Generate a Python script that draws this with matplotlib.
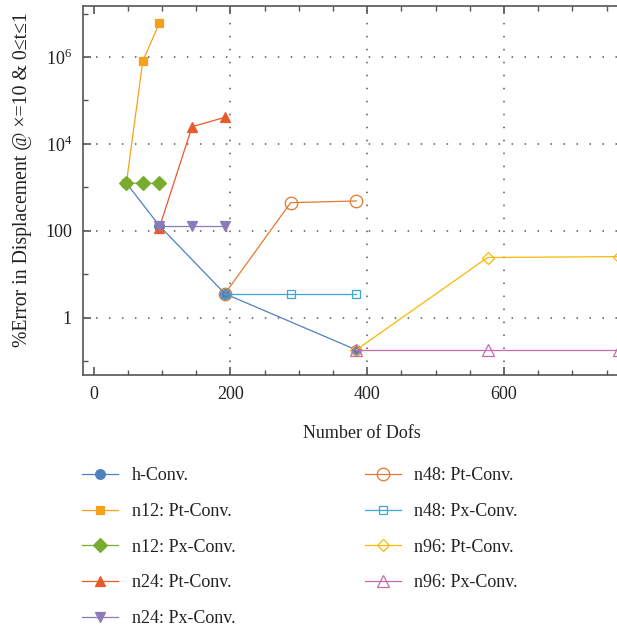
import matplotlib
matplotlib.use("Agg")
import matplotlib.pyplot as plt
from matplotlib.ticker import FixedLocator, FixedFormatter, MultipleLocator

plt.rcParams['font.family'] = ['Liberation Serif', 'DejaVu Serif']
plt.rcParams['mathtext.fontset'] = 'custom'
plt.rcParams['mathtext.rm'] = 'Liberation Serif'

# ---- data ----
h_x = [48, 96, 192, 384]
h_y = [1260, 133, 3.6, 0.184]

n12_pt_x = [48, 72, 96]
n12_pt_y = [1260, 8.1e5, 5.9e6]
n12_px_x = [48, 72, 96]
n12_px_y = [1260, 1250, 1250]

n24_pt_x = [96, 144, 192]
n24_pt_y = [117, 2.5e4, 4.1e4]
n24_px_x = [96, 144, 192]
n24_px_y = [133, 133, 133]

n48_pt_x = [192, 288, 384]
n48_pt_y = [3.6, 447, 490]
n48_px_x = [192, 288, 384]
n48_px_y = [3.6, 3.6, 3.6]

n96_pt_x = [384, 576, 768]
n96_pt_y = [0.184, 24.5, 25.7]
n96_px_x = [384, 576, 768]
n96_px_y = [0.184, 0.184, 0.184]

labels = ["h-Conv.", "n12: Pt-Conv.", "n12: Px-Conv.", "n24: Pt-Conv.",
          "n24: Px-Conv.", "n48: Pt-Conv.", "n48: Px-Conv.", "n96: Pt-Conv.",
          "n96: Px-Conv."]
ytick_vals = [1, 100, 1e4, 1e6]
ytick_labels = ["1", "100", r"$10^4$", r"$10^6$"]
xtick_vals = [0, 200, 400, 600]

# ---- figure ----
W, H = 617, 629
fig = plt.figure(figsize=(W / 100, H / 100), dpi=100)
ax_left, ax_bottom = 83 / W, (H - 374.5) / H
ax_height = (374.5 - 5.7) / H
xmin, xmax = -15.4, 800
ax_wpx = (xmax - xmin) * 0.6842
ax_width = ax_wpx / W
ax = fig.add_axes([ax_left, ax_bottom, ax_width, ax_height])

series = [
    (h_x, h_y, '#4f81bd', 'o', 7, True),
    (n12_pt_x, n12_pt_y, '#f5a11c', 's', 6, True),
    (n12_px_x, n12_px_y, '#77ac2f', 'D', 7, True),
    (n24_pt_x, n24_pt_y, '#ea5a2a', '^', 7.5, True),
    (n24_px_x, n24_px_y, '#8b7bb9', 'v', 7.5, True),
    (n48_pt_x, n48_pt_y, '#e3792f', 'o', 9, False),
    (n48_px_x, n48_px_y, '#3aa7d6', 's', 6, False),
    (n96_pt_x, n96_pt_y, '#fbb900', 'D', 6.5, False),
    (n96_px_x, n96_px_y, '#c56bb2', '^', 8, False),
]
for (x, y, c, m, ms, filled), lab in zip(series, labels):
    ax.plot(x, y, color=c, marker=m, markersize=ms, linewidth=0.9,
            markerfacecolor=c if filled else 'none', markeredgecolor=c,
            markeredgewidth=0.9, label=lab, clip_on=True)

ax.set_yscale('log')
ax.set_xlim(xmin, xmax)
ax.set_ylim(0.05, 10 ** 7.18)

ax.xaxis.set_major_locator(FixedLocator(xtick_vals))
ax.xaxis.set_minor_locator(MultipleLocator(50))
ax.yaxis.set_major_locator(FixedLocator(ytick_vals))
ax.yaxis.set_major_formatter(FixedFormatter(ytick_labels))
ax.yaxis.set_minor_locator(FixedLocator([0.1, 10, 1e3, 1e5, 1e7]))
ax.yaxis.set_minor_formatter(FixedFormatter([]))

axis_col = '#555555'
for s in ['left', 'bottom', 'top']:
    ax.spines[s].set_color(axis_col)
    ax.spines[s].set_linewidth(1.2)
ax.spines['right'].set_visible(False)

ax.tick_params(which='both', direction='in', top=True, right=False,
               color=axis_col, labelsize=13, labelcolor='#222222')
ax.tick_params(which='major', length=6, width=1.2, pad=8)
ax.tick_params(which='minor', length=3.5, width=1.0)

ax.grid(True, which='major', color='#555555', linestyle=(0, (1, 7.5)),
        linewidth=1.1)
ax.xaxis.get_gridlines()[0].set_visible(False)

ax.set_xlabel("Number of Dofs", fontsize=13, color='#222222', labelpad=16)
ax.set_ylabel("%Error in Displacement @ ×=10 & 0≤t≤1", fontsize=14.2,
              color='#222222')
ax.yaxis.set_label_coords((32 - 83) / ax_wpx, (374.5 - 180) / 368.8)

leg = fig.legend(loc='upper left', bbox_to_anchor=(82 / W, (H - 467.5) / H),
                 ncol=2, frameon=False, fontsize=13, handlelength=2.0,
                 handletextpad=0.75, columnspacing=7.17, labelspacing=1.03,
                 borderpad=0, borderaxespad=0)
for t in leg.get_texts():
    t.set_color('#222222')

fig.savefig("out.png", dpi=100)
